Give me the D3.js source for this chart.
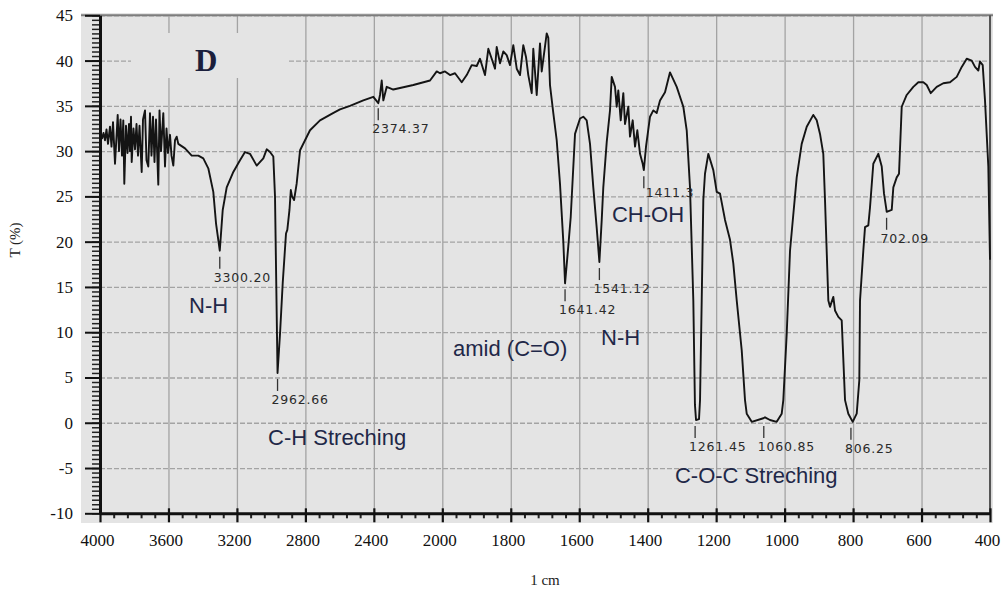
<!DOCTYPE html>
<html><head><meta charset="utf-8">
<script src="https://cdn.jsdelivr.net/npm/d3@7"></script>
<style>body{margin:0;background:#fff}svg{display:block}</style>
</head><body>
<svg id="chart" width="1006" height="589"></svg>
<script>
// ---------------- data ----------------
const wavenumber = [
4000,3988.3,3979.5,3970.8,3962,3953.3,3941.6,3932.8,3924,3912.4,3896.6,3889,3880.2,3871.5,3863.9,3858,3848.1,3839.3,3830.6,3824.7,
3818.9,3814.8,3804.3,3795.5,3786.7,3778,3769.2,3756.4,3748.8,3737.1,3728.3,3717.8,3707.9,3699.1,3690.3,3681.6,3672.8,3659.4,3652.3,3643.6,
3630.1,3620.2,3611.4,3602.7,3591,3582.2,3571.7,3561.8,3551.8,3542.5,3503.3,3464.2,3425.6,3396.4,3367.2,3338,3322,3300.2,3283,3259.7,
3221,3182,3152.8,3123.6,3084.4,3045.8,3026,3006.7,2987.4,2977.5,2962.66,2948.3,2932.5,2913.2,2905.6,2893,2885,2878,2866,2851,
2831,2773,2714.5,2638.6,2597.7,2539.3,2461.6,2403.1,2373.9,2364,2354,2344.7,2324.8,2286.3,2169.4,2071.8,2032.6,2013.4,
1992.1,1977.5,1962.9,1943.3,1928.7,1914.1,1899.5,1889.9,1875.3,1865.6,1855.7,1846,1841.1,1831.4,1821.8,1811.9,1802.2,1792.6,1782.6,1773,
1763.4,1755.5,1748.8,1738.8,1734.2,1724.2,1714.6,1709.6,1695,1690.3,1685.4,1675.7,1665.8,1656.2,1646.5,1641.42,1631.9,1624.9,1612.3,1597.7,
1588.1,1578.2,1568.5,1558.9,1548.9,1541.12,1534.3,1529.7,1519.7,1510.1,1505.1,1495.5,1490.5,1485.8,1478.8,1471.2,1466.3,1456.6,1451.7,1443.8,
1437,1430.3,1422.4,1414.6,1411.3,1404.9,1393.2,1383.6,1373.7,1364,1349.4,1334.8,1315.2,1295.9,1286,1276.4,1266.7,1262,1258.8,1250.1,
1247.1,1242.2,1237.5,1232.6,1222.9,1208.3,1198.4,1188.7,1174.1,1159.5,1149.9,1139.9,1125.3,1115.7,1110.7,1096.1,1062.2,1057.3,1042.7,1023.1,
1008.5,1003.8,993.9,984.2,974.6,964.7,950.1,935.4,916.2,906.2,896.6,887,882,872.3,867.4,857.7,852.8,843.1,833.2,823.5,
813.9,801.1,789.4,781.8,779.7,770.1,765.1,755.5,750.5,740.9,726.3,716.3,709.6,701.7,687.1,682.4,672.5,665.8,657.9,643.3,
624,609.4,594.8,584.9,573.2,555.7,536.4,516.8,497.2,482.6,468,453.4,443.8,434.1,429.2,421.3,414.6,404.9,400
];
const transmittance = [
31.6,31.4,32.0,31.2,32.4,30.8,32.7,30.5,33.2,28.6,34.0,30.0,33.5,29.5,33.4,26.4,32.8,29.8,33.0,30.0,
33.8,28.8,32.5,30.2,33.0,29.5,32.8,27.7,33.5,34.5,29.0,28.3,34.2,29.5,33.8,28.8,33.5,26.3,34.5,30.0,
34.2,28.3,32.5,29.8,31.8,29.5,28.4,31.2,31.6,30.8,30.3,29.5,29.5,29.2,28.1,25.5,22.0,19.0,23.5,26.0,
27.7,29.0,29.9,29.7,28.4,29.2,30.2,29.9,29.4,25.0,5.5,9.8,15.4,20.9,21.3,23.5,25.7,25.0,24.6,26.4,
30.1,32.3,33.4,34.2,34.6,35.0,35.6,36.0,35.3,36.2,37.8,35.6,37.1,36.8,37.3,37.8,38.8,38.6,
38.8,38.4,38.6,37.6,38.4,39.5,39.4,40.2,38.4,41.3,40.2,39.1,41.5,39.7,41.0,40.6,39.5,41.7,39.1,38.4,
41.7,40.4,38.4,36.4,41.3,36.2,41.9,38.8,43.0,42.5,37.3,34.2,31.2,26.4,20.0,15.4,19.5,22.7,31.9,33.6,
33.8,33.4,30.8,26.0,21.5,17.75,22.4,26.0,31.0,34.5,38.2,37.1,34.9,36.7,33.4,36.4,33.0,34.9,31.6,33.4,
30.5,32.3,29.7,28.6,27.9,30.5,33.8,34.5,34.2,35.6,36.5,38.7,37.1,34.9,32.3,26.0,13.5,2.0,0.3,0.4,
2.5,13.5,24.6,27.5,29.7,27.9,25.5,25.3,22.4,20.2,17.6,13.5,8.0,2.5,1.0,0.1,0.5,0.6,0.3,0.1,
1.0,2.5,9.8,19.0,23.0,27.1,30.8,32.7,34.0,33.4,31.9,29.7,24.6,13.5,12.8,13.9,12.4,11.7,11.3,2.5,
1.0,0.1,1.0,4.7,13.5,19.0,21.6,21.8,23.8,28.6,29.7,28.3,25.3,23.3,23.5,26.0,27.1,27.5,34.9,36.2,
37.1,37.6,37.6,37.3,36.4,37.1,37.5,37.6,38.2,39.3,40.2,40.0,39.3,38.9,39.9,39.5,35.6,28.3,18.0
];
const xTickValues = [4000,3600,3200,2800,2400,2000,1800,1600,1400,1200,1000,800,600,400];
const yTickValues = [-10,-5,0,5,10,15,20,25,30,35,40,45];
const peakWavenumbers = [3300.20,2962.66,2374.37,1641.42,1541.12,1411.3,1261.45,1060.85,806.25,702.09];
const peakLabels = ["3300.20","2962.66","2374.37","1641.42","1541.12","1411.3","1261.45","1060.85","806.25","702.09"];
const peakMinima = [19.0,5.5,35.4,15.4,17.75,27.9,0.3,0.3,0.1,23.3];
const bandLabels = ["N-H","C-H Streching","amid (C=O)","N-H","CH-OH","C-O-C Streching"];
const bandWavenumbers = [3480,3018,1968.7,1536.4,1504.3,1320.3];
const bandTransmittance = [12.97,-1.6,8.2,9.4,23.0,-5.8];
const panelLabel = "D";
const xTitle = "1 cm";
const yTitle = "T (%)";

// ---------------- layout ----------------
const svg = d3.select("#chart");
const L = 100, R = 990, T = 15.3, B = 513.3;
const x = d3.scaleLinear().domain([4000, 2000, 400]).range([L, L + (R - L) * 5 / 13, R]);
const y = d3.scaleLinear().domain([-10, 45]).range([B, T]);
const serif = "Liberation Serif, Times New Roman, serif";

// background
svg.append("rect").attr("x", 81).attr("y", 13).attr("width", 912).attr("height", 510).attr("fill", "#e4e4e4");

// grid
svg.append("g").attr("transform", `translate(0,${B})`)
  .call(d3.axisBottom(x).tickValues(xTickValues).tickSize(-(B - T)).tickFormat(""))
  .call(g => g.select(".domain").remove())
  .selectAll("line").attr("stroke", "#a3a3a3").attr("stroke-width", 1.3);
svg.append("g").attr("transform", `translate(${L},0)`)
  .call(d3.axisLeft(y).tickValues(yTickValues).tickSize(-(R - L)).tickFormat(""))
  .call(g => g.select(".domain").remove())
  .selectAll("line").attr("stroke", "#a3a3a3").attr("stroke-width", 1.3).attr("stroke-dasharray", "5,2");

// box behind panel label
svg.append("rect").attr("x", 131).attr("y", 33).attr("width", 157).attr("height", 45).attr("fill", "#e4e4e4");

// borders
svg.append("line").attr("x1", 81).attr("x2", 993).attr("y1", T).attr("y2", T).attr("stroke", "#7d7d7d").attr("stroke-width", 2);
svg.append("line").attr("x1", R).attr("x2", R).attr("y1", T).attr("y2", B).attr("stroke", "#555").attr("stroke-width", 2);

// spectrum
const pts = wavenumber.map((w, i) => [w, transmittance[i]]);
svg.append("path").datum(pts)
  .attr("fill", "none").attr("stroke", "#141414").attr("stroke-width", 1.9).attr("stroke-linejoin", "round")
  .attr("d", d3.line().x(d => x(d[0])).y(d => y(d[1])));

// y axis
const yMinor = d3.range(-10, 45.01, 0.5);
svg.append("g").attr("transform", `translate(${L},0)`)
  .call(d3.axisLeft(y).tickValues(yMinor).tickSize(8).tickFormat(""))
  .call(g => g.select(".domain").remove())
  .selectAll("line").attr("stroke", "#222").attr("stroke-width", 1.5);
const yAxis = svg.append("g").attr("transform", `translate(${L},0)`)
  .call(d3.axisLeft(y).tickValues(yTickValues).tickSize(15).tickPadding(12).tickSizeOuter(0).tickFormat(d => String(d)));
yAxis.select(".domain").attr("stroke", "#111").attr("stroke-width", 3);
yAxis.selectAll(".tick line").attr("stroke", "#111").attr("stroke-width", 2);
yAxis.selectAll("text").attr("font-family", serif).attr("font-size", 17).attr("fill", "#111");

// x axis
const xMinor = d3.range(4000, 2000, -80).concat(d3.range(2000, 399, -40)).filter(v => !xTickValues.includes(v));
svg.append("g").attr("transform", `translate(0,${B + 1.5})`)
  .call(d3.axisBottom(x).tickValues(xMinor).tickSize(3.5).tickFormat(""))
  .call(g => g.select(".domain").remove())
  .selectAll("line").attr("stroke", "#222").attr("stroke-width", 2);
const xAxis = svg.append("g").attr("transform", `translate(0,${B})`)
  .call(d3.axisBottom(x).tickValues(xTickValues).tickSize(9).tickSizeOuter(0).tickFormat(d => String(d)));
xAxis.select(".domain").attr("stroke", "#111").attr("stroke-width", 3);
xAxis.selectAll(".tick line").attr("y1", -5).attr("stroke", "#111").attr("stroke-width", 2.2);
xAxis.selectAll("text").attr("y", 0).attr("dy", 0).attr("transform", "translate(-3,32.7)")
  .attr("font-family", serif).attr("font-size", 17).attr("fill", "#111");

// axis titles
svg.append("text").attr("transform", "translate(20,240) rotate(-90)").attr("text-anchor", "middle")
  .attr("font-family", serif).attr("font-size", 15).attr("fill", "#222").text(yTitle);
svg.append("text").attr("x", 545).attr("y", 585).attr("text-anchor", "middle")
  .attr("font-family", serif).attr("font-size", 15).attr("fill", "#222").text(xTitle);

// peak markers
const peaks = svg.append("g");
peakWavenumbers.forEach((w, i) => {
  const px = x(w), py = y(peakMinima[i]);
  peaks.append("line").attr("x1", px).attr("x2", px).attr("y1", py + 6).attr("y2", py + 18)
    .attr("stroke", "#333").attr("stroke-width", 1.3);
  const after = peakLabels[i] === "1411.3";
  peaks.append("text").attr("x", after ? px + 2 : px - 6).attr("y", after ? py + 27 : py + 31)
    .attr("font-family", "DejaVu Sans, sans-serif").attr("font-size", 12.5).attr("letter-spacing", 0.8)
    .attr("fill", "#2a2a2a").text(peakLabels[i]);
});

// band labels
bandLabels.forEach((t, i) => {
  svg.append("text").attr("x", x(bandWavenumbers[i])).attr("y", y(bandTransmittance[i]))
    .attr("dominant-baseline", "central")
    .attr("font-family", "Liberation Sans, Arial, sans-serif").attr("font-size", 22)
    .attr("fill", "#1f2848").text(t);
});

// panel label
svg.append("text").attr("x", x(3445)).attr("y", y(38.8))
  .attr("font-family", serif).attr("font-weight", "bold").attr("font-size", 31)
  .attr("fill", "#1b1f3c").text(panelLabel);
</script>
</body></html>
